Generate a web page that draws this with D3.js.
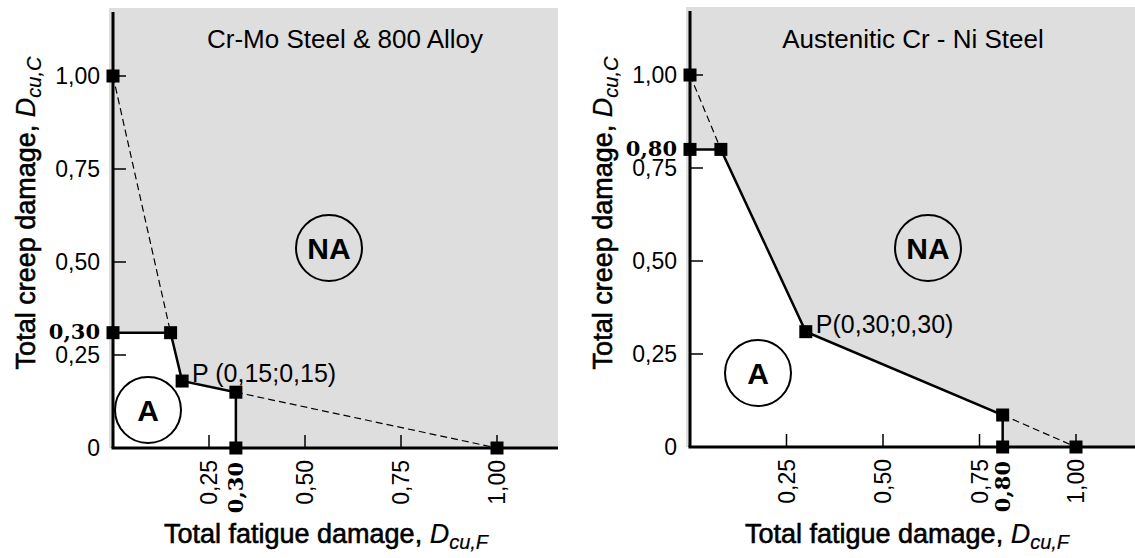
<!DOCTYPE html>
<html>
<head>
<meta charset="utf-8">
<script src="https://cdn.jsdelivr.net/npm/d3@7"></script>
<style>
  body { margin: 0; background: #fff; }
  text { font-family: "Liberation Sans", Arial, sans-serif; fill: #000; }
  .bold-serif { font-family: "DejaVu Serif", "Liberation Serif", serif; font-weight: bold; }
  .axis-title { stroke: #000; stroke-width: 0.6px; }
</style>
</head>
<body>
<div id="chart"></div>
<script>
// axis ticks (both panels)
const tickValues = [0.25, 0.50, 0.75, 1.00];
const tickLabels = ["0,25", "0,50", "0,75", "1,00"];

// Cr-Mo Steel & 800 Alloy
const crmoTitle = "Cr-Mo Steel & 800 Alloy";
const crmoSolidF = [0, 0.15, 0.18, 0.32, 0.32];
const crmoSolidC = [0.31, 0.31, 0.18, 0.15, 0];
const crmoDashF = [[0, 0.15], [0.32, 1.00]];
const crmoDashC = [[1.00, 0.31], [0.15, 0]];
const crmoMarkF = [0, 0, 0.15, 0.18, 0.32, 0.32, 1.00];
const crmoMarkC = [1.00, 0.31, 0.31, 0.18, 0.15, 0, 0];
const crmoBoldF = 0.32, crmoBoldFLabel = "0,30";
const crmoBoldC = 0.31, crmoBoldCLabel = "0,30";
const crmoPLabel = "P (0,15;0,15)";

// Austenitic Cr - Ni Steel
const ausTitle = "Austenitic Cr - Ni Steel";
const ausSolidF = [0, 0.08, 0.30, 0.81, 0.81];
const ausSolidC = [0.80, 0.80, 0.31, 0.086, 0];
const ausDashF = [[0, 0.08], [0.81, 1.00]];
const ausDashC = [[1.00, 0.80], [0.086, 0]];
const ausMarkF = [0, 0, 0.08, 0.30, 0.81, 0.81, 1.00];
const ausMarkC = [1.00, 0.80, 0.80, 0.31, 0.086, 0, 0];
const ausBoldF = 0.81, ausBoldFLabel = "0,80";
const ausBoldC = 0.80, ausBoldCLabel = "0,80";
const ausPLabel = "P(0,30;0,30)";

const W = 1135, H = 558;
const svg = d3.select("#chart").append("svg")
    .attr("width", W).attr("height", H);

function drawPanel(p) {
    let x = d3.scaleLinear().domain([0, 1]).range(p.xRange);
    let y = d3.scaleLinear().domain([0, 1]).range(p.yRange);
    let g = svg.append("g");
    let x0 = x(0), y0 = y(0);

    // gray non-acceptable area
    g.append("rect")
        .attr("x", x0 - 4).attr("y", p.top)
        .attr("width", p.right - x0 + 4).attr("height", y0 - p.top)
        .attr("fill", "#dedede");

    // white acceptable area
    let poly = [[0, 0]].concat(p.solidF.map((f, i) => [f, p.solidC[i]]));
    g.append("path")
        .datum(poly)
        .attr("fill", "#fff")
        .attr("d", d3.line().x(d => x(d[0])).y(d => y(d[1])));

    // axes
    g.append("line").attr("x1", x0).attr("x2", x0).attr("y1", p.top + 4).attr("y2", y0)
        .attr("stroke", "#000").attr("stroke-width", 3);
    g.append("line").attr("x1", x0 - 1.5).attr("x2", p.right).attr("y1", y0).attr("y2", y0)
        .attr("stroke", "#000").attr("stroke-width", 3);

    // y ticks (pointing inward)
    g.selectAll(".ytick").data(tickValues).enter().append("line")
        .attr("x1", x0).attr("x2", x0 + 13)
        .attr("y1", d => y(d)).attr("y2", d => y(d))
        .attr("stroke", "#000").attr("stroke-width", 1.5);
    g.selectAll(".ylab").data(tickValues).enter().append("text")
        .attr("x", x0 - 13).attr("y", d => y(d)).attr("dy", "0.36em")
        .attr("text-anchor", "end").style("font-size", "23px")
        .text((d, i) => tickLabels[i]);
    g.append("text")
        .attr("x", x0 - 13).attr("y", y0).attr("dy", "0.36em")
        .attr("text-anchor", "end").style("font-size", "23px").text("0");

    // x ticks (pointing inward) and rotated labels
    g.selectAll(".xtick").data(tickValues).enter().append("line")
        .attr("x1", d => x(d)).attr("x2", d => x(d))
        .attr("y1", y0).attr("y2", y0 - 13)
        .attr("stroke", "#000").attr("stroke-width", 1.5);
    g.selectAll(".xlab").data(tickValues).enter().append("text")
        .attr("transform", d => "translate(" + x(d) + "," + (y0 + 12) + ")rotate(-90)")
        .attr("dy", "0.36em")
        .attr("text-anchor", "end").style("font-size", "23px")
        .text((d, i) => tickLabels[i]);

    // bold special labels
    g.append("text").attr("class", "bold-serif")
        .attr("x", x0 - 13).attr("y", y(p.boldC) - 1).attr("dy", "0.36em")
        .attr("text-anchor", "end").style("font-size", "21px")
        .text(p.boldCLabel);
    g.append("text").attr("class", "bold-serif")
        .attr("transform", "translate(" + x(p.boldF) + "," + (y0 + 14) + ")rotate(-90)")
        .attr("dy", "0.36em")
        .attr("text-anchor", "end").style("font-size", "21px")
        .text(p.boldFLabel);

    // dashed lines
    p.dashF.forEach((fs, k) => {
        g.append("path")
            .datum(fs.map((f, i) => [f, p.dashC[k][i]]))
            .attr("fill", "none").attr("stroke", "#000")
            .attr("stroke-width", 1.2).attr("stroke-dasharray", "7,4")
            .attr("d", d3.line().x(d => x(d[0])).y(d => y(d[1])));
    });

    // solid boundary
    g.append("path")
        .datum(p.solidF.map((f, i) => [f, p.solidC[i]]))
        .attr("fill", "none").attr("stroke", "#000").attr("stroke-width", 2.5)
        .attr("d", d3.line().x(d => x(d[0])).y(d => y(d[1])));

    // square markers
    g.selectAll(".mark").data(p.markF).enter().append("rect")
        .attr("x", d => x(d) - 6.5)
        .attr("y", (d, i) => y(p.markC[i]) - 6.5)
        .attr("width", 13).attr("height", 13)
        .attr("fill", "#000");

    // title
    g.append("text")
        .attr("x", p.titleX).attr("y", 48)
        .attr("text-anchor", "middle").style("font-size", "26px")
        .text(p.title);

    // P label
    g.append("text")
        .attr("x", x(p.pF) + 10).attr("y", y(p.pC) + 1)
        .style("font-size", "25px")
        .text(p.pLabel);

    // region circles
    [[p.naPos, "NA"], [p.aPos, "A"]].forEach(c => {
        g.append("circle")
            .attr("cx", c[0][0]).attr("cy", c[0][1]).attr("r", 33)
            .attr("fill", "none").attr("stroke", "#000").attr("stroke-width", 2);
        g.append("text")
            .attr("x", c[0][0]).attr("y", c[0][1]).attr("dy", "0.36em")
            .attr("text-anchor", "middle")
            .style("font-size", "30px").style("font-weight", "bold")
            .text(c[1]);
    });

    // axis titles
    let xt = g.append("text").attr("class", "axis-title")
        .attr("x", p.xTitleX).attr("y", 543)
        .attr("text-anchor", "middle")
        .style("font-size", "27px");
    xt.append("tspan").text("Total fatigue damage, ");
    xt.append("tspan").style("font-style", "italic").style("stroke-width", "0.2px").text("D");
    xt.append("tspan").style("font-style", "italic").style("stroke-width", "0.2px")
        .style("font-size", "20px").attr("dy", 6).text("cu,F");

    let yt = g.append("text").attr("class", "axis-title")
        .attr("transform", "translate(" + (x0 - 78) + "," + p.yTitleY + ")rotate(-90)")
        .attr("text-anchor", "middle")
        .style("font-size", "27px");
    yt.append("tspan").text("Total creep damage, ");
    yt.append("tspan").style("font-style", "italic").style("stroke-width", "0.2px").text("D");
    yt.append("tspan").style("font-style", "italic").style("stroke-width", "0.2px")
        .style("font-size", "20px").attr("dy", 6).text("cu,C");
}

drawPanel({
    xRange: [113, 497], yRange: [448, 76], top: 8, right: 558,
    title: crmoTitle, titleX: 345,
    solidF: crmoSolidF, solidC: crmoSolidC,
    dashF: crmoDashF, dashC: crmoDashC,
    markF: crmoMarkF, markC: crmoMarkC,
    boldF: crmoBoldF, boldFLabel: crmoBoldFLabel,
    boldC: crmoBoldC, boldCLabel: crmoBoldCLabel,
    pF: crmoMarkF[3], pC: crmoMarkC[3], pLabel: crmoPLabel,
    naPos: [329, 248], aPos: [148, 410],
    xTitleX: 326, yTitleY: 213
});

drawPanel({
    xRange: [690, 1076], yRange: [447, 75], top: 7, right: 1135,
    title: ausTitle, titleX: 913,
    solidF: ausSolidF, solidC: ausSolidC,
    dashF: ausDashF, dashC: ausDashC,
    markF: ausMarkF, markC: ausMarkC,
    boldF: ausBoldF, boldFLabel: ausBoldFLabel,
    boldC: ausBoldC, boldCLabel: ausBoldCLabel,
    pF: ausMarkF[3], pC: ausMarkC[3], pLabel: ausPLabel,
    naPos: [928, 248], aPos: [758, 373],
    xTitleX: 907, yTitleY: 213
});
</script>
</body>
</html>
